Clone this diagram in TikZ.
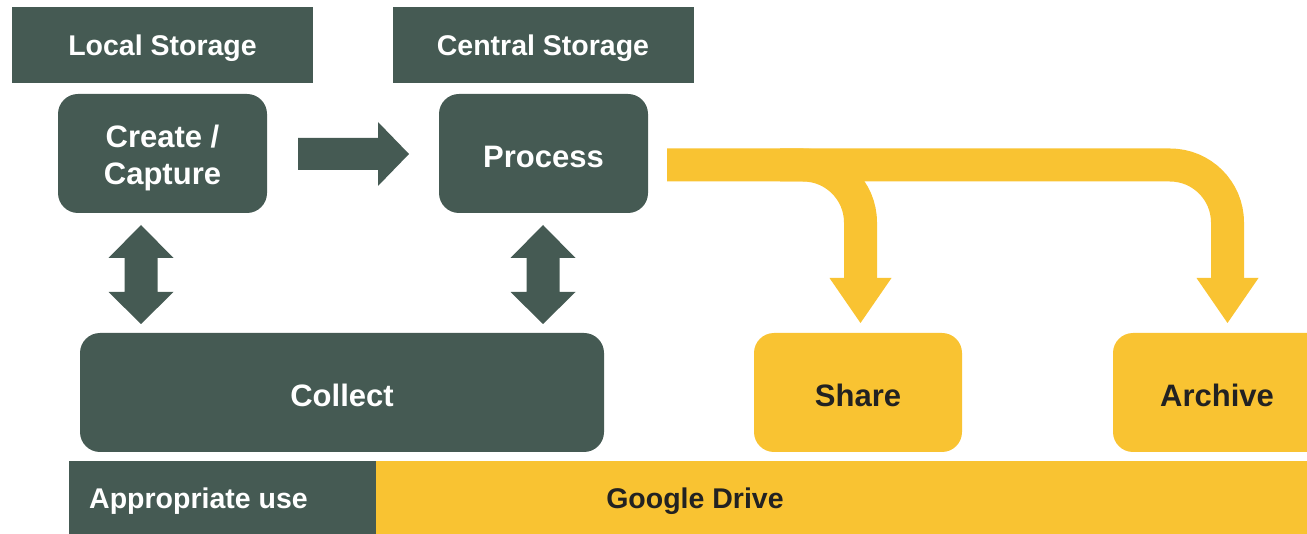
\documentclass[tikz,border=0pt]{standalone}
\usepackage{fontspec}
\setmainfont{Liberation Sans}
\begin{document}
\begin{tikzpicture}[x=1pt,y=-1pt,
  dk/.style={fill={rgb,255:red,69;green,90;blue,83}},
  yl/.style={fill={rgb,255:red,249;green,195;blue,50}},
  lbl/.style={dk,inner sep=0pt,minimum width=301pt,minimum height=76pt},
  gbox/.style={dk,rounded corners=20pt,inner sep=0pt,minimum height=119pt},
  ybox/.style={yl,rounded corners=20pt,inner sep=0pt,minimum height=119pt},
  wtxt/.style={inner sep=0pt,text=white,font=\fontsize{31}{37}\selectfont\bfseries,align=center},
  btxt/.style={inner sep=0pt,text={rgb,255:red,34;green,34;blue,34},font=\fontsize{31}{37}\selectfont\bfseries,align=center},
  stxt/.style={inner sep=0pt,font=\fontsize{28.5}{34}\selectfont\bfseries},
  band/.style={draw={rgb,255:red,249;green,195;blue,50},line width=33pt},
]
\useasboundingbox (0,0) rectangle (1307,534);
\clip (0,0) rectangle (1307,534);
% labels
\node[lbl] (local) at (162.5,45) {};
\node[lbl] (central) at (543,45) {};
\node[stxt,text=white] (localT) at ([yshift=-3.5pt]local.center) {Local Storage};
\node[stxt,text=white] (centralT) at ([yshift=-3.5pt]central.center) {Central Storage};
% boxes
\node[gbox,minimum width=209pt] (create) at (162.5,153.5) {};
\node[gbox,minimum width=209pt] (process) at (543.5,153.5) {};
\node[gbox,minimum width=524pt] (collect) at (342,392.5) {};
\node[ybox,minimum width=208pt] (share) at (858,392.5) {};
\node[ybox,minimum width=220pt] (archive) at (1223,392.5) {};
\node[wtxt] (createT) at ([yshift=-4pt]create.center) {Create /\\Capture};
\node[wtxt] (processT) at ([yshift=-3pt]process.center) {Process};
\node[wtxt] (collectT) at ([yshift=-3pt]collect.center) {Collect};
\node[btxt] (shareT) at ([yshift=-3pt]share.center) {Share};
\node[btxt] (archiveT) at ([xshift=-6pt,yshift=-3pt]archive.center) {Archive};
% bottom bar
\fill[yl] (376,461) rectangle (1307,534);
\node[dk,inner sep=0pt,minimum width=307pt,minimum height=73pt] (appbar) at (222.5,497.5) {};
\node[stxt,anchor=west,text=white] (app) at (89,501) {Appropriate use};
\node[stxt,text={rgb,255:red,34;green,34;blue,34}] (gd) at (695,501) {Google Drive};
% right arrow create -> process
\fill[dk] (298,138) -- (378,138) -- (378,122) -- (409,154) -- (378,186) -- (378,170) -- (298,170) -- cycle;
% double arrows
\foreach \cx in {141,543}{
  \fill[dk] (\cx,225) -- (\cx+32.5,258) -- (\cx+16.5,258) -- (\cx+16.5,292) -- (\cx+32.5,292)
     -- (\cx,324) -- (\cx-32.5,292) -- (\cx-16.5,292) -- (\cx-16.5,258) -- (\cx-32.5,258) -- cycle;
}
% yellow bands
\coordinate (bstart) at (667,165);
\draw[band] (bstart) -- (1170,165) arc[start angle=-90,end angle=0,radius=57.5] -- (1227.5,279);
\draw[band] (780,165) -- (803,165) arc[start angle=-90,end angle=0,radius=57.5] -- (860.5,279);
\fill[yl] (829.5,278) -- (891.5,278) -- (860.5,323) -- cycle;
\fill[yl] (1196.5,278) -- (1258.5,278) -- (1227.5,323) -- cycle;
\end{tikzpicture}
\end{document}
